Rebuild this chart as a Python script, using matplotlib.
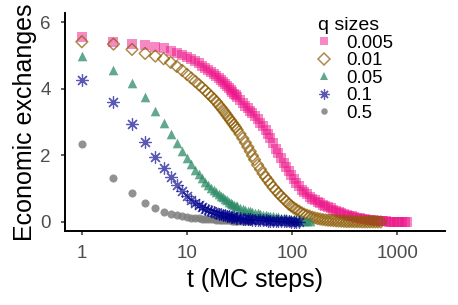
import matplotlib
matplotlib.use("Agg")
import matplotlib.pyplot as plt
from matplotlib.lines import Line2D

plt.rcParams['font.family'] = ['Liberation Sans', 'DejaVu Sans']

# time steps (MC steps)
t_steps = [1, 2, 3, 4, 5, 6, 7, 8, 9, 10,
           11, 12, 13, 14, 15, 16, 17, 18, 19, 20,
           21, 22, 23, 24, 25, 26, 27, 28, 29, 30,
           32, 34, 36, 38, 40, 42, 44, 47, 50, 53,
           56, 59, 62, 66, 70, 74, 78, 83, 88, 93,
           98, 104, 110, 117, 124, 131, 139, 147, 156, 165,
           175, 185, 196, 208, 220, 233, 247, 262, 277, 294,
           311, 330, 349, 370, 392, 415, 440, 466, 494, 523,
           554, 587, 622, 659, 698, 740, 784, 830, 880, 932,
           988, 1047, 1109, 1175, 1245]

q_labels = ["0.005", "0.01", "0.05", "0.1", "0.5"]

ex_q0005 = [5.54, 5.39, 5.34, 5.30, 5.26, 5.21, 5.14, 5.08, 5.02, 4.96,
            4.90, 4.83, 4.76, 4.69, 4.62, 4.56, 4.50, 4.43, 4.37, 4.31,
            4.25, 4.19, 4.13, 4.07, 4.01, 3.96, 3.90, 3.85, 3.80, 3.75,
            3.66, 3.57, 3.49, 3.41, 3.33, 3.26, 3.19, 3.09, 2.98, 2.87,
            2.76, 2.64, 2.53, 2.37, 2.20, 2.06, 1.92, 1.78, 1.64, 1.52,
            1.41, 1.30, 1.18, 1.07, 0.97, 0.90, 0.83, 0.76, 0.70, 0.65,
            0.60, 0.56, 0.51, 0.47, 0.44, 0.41, 0.37, 0.34, 0.30, 0.27,
            0.24, 0.21, 0.19, 0.17, 0.15, 0.13, 0.11, 0.10, 0.08, 0.07,
            0.06, 0.05, 0.04, 0.035, 0.03, 0.02, 0.02, 0.01, 0.01, 0.01,
            0.005, 0.005, 0.0, 0.0, 0.0]

ex_q001 = [5.41, 5.34, 5.18, 5.06, 4.98, 4.90, 4.79, 4.67, 4.55, 4.43,
           4.32, 4.22, 4.12, 4.03, 3.94, 3.85, 3.77, 3.69, 3.61, 3.52,
           3.44, 3.36, 3.28, 3.20, 3.12, 3.05, 2.98, 2.91, 2.84, 2.77,
           2.64, 2.51, 2.38, 2.25, 2.12, 1.99, 1.87, 1.71, 1.58, 1.45,
           1.34, 1.25, 1.15, 1.04, 0.95, 0.86, 0.78, 0.70, 0.62, 0.54,
           0.48, 0.42, 0.37, 0.32, 0.27, 0.23, 0.20, 0.17, 0.14, 0.12,
           0.10, 0.085, 0.07, 0.06, 0.05, 0.045, 0.04, 0.03, 0.025, 0.02,
           0.015, 0.01, 0.01, 0.01, 0.005, 0.005, 0.005, 0.0, 0.0, 0.0,
           0.0, 0.0, 0.0, 0.0, 0.0]

ex_q005 = [4.99, 4.56, 4.16, 3.74, 3.34, 2.96, 2.64, 2.36, 2.12, 1.91,
           1.73, 1.57, 1.43, 1.31, 1.20, 1.11, 1.03, 0.96, 0.89, 0.83,
           0.78, 0.74, 0.69, 0.65, 0.61, 0.58, 0.55, 0.52, 0.49, 0.47,
           0.43, 0.40, 0.37, 0.34, 0.32, 0.30, 0.28, 0.26, 0.24, 0.22,
           0.205, 0.19, 0.18, 0.165, 0.15, 0.14, 0.13, 0.115, 0.105, 0.095,
           0.085, 0.075, 0.065, 0.055, 0.05, 0.04, 0.035, 0.03]

ex_q01 = [4.26, 3.59, 2.94, 2.40, 1.96, 1.61, 1.34, 1.11, 0.94, 0.79,
          0.67, 0.58, 0.51, 0.45, 0.40, 0.36, 0.33, 0.30, 0.27, 0.25,
          0.23, 0.21, 0.195, 0.18, 0.17, 0.16, 0.15, 0.14, 0.13, 0.12,
          0.11, 0.10, 0.09, 0.085, 0.075, 0.07, 0.065, 0.06, 0.055, 0.05,
          0.045, 0.04, 0.035, 0.03, 0.03, 0.025, 0.02, 0.02, 0.015, 0.015,
          0.01, 0.01, 0.005, 0.0]

ex_q05 = [2.35, 1.33, 0.86, 0.58, 0.42, 0.31, 0.24, 0.20, 0.17, 0.14,
          0.13, 0.12, 0.11, 0.10, 0.09, 0.09, 0.08, 0.08, 0.07, 0.07,
          0.065, 0.06, 0.055, 0.05, 0.05, 0.045, 0.04, 0.04, 0.035, 0.035,
          0.03, 0.03, 0.025, 0.02, 0.02]

series = [ex_q0005, ex_q001, ex_q005, ex_q01, ex_q05]

styles = [
    dict(marker='s', s=44, color='#EE1289', alpha=0.5, kind='fill', lw=0, z=2),
    dict(marker='D', s=36, color='#8B5A00', alpha=0.7, kind='hollow', lw=1.1, z=3),
    dict(marker='^', s=48, color='#2E8B67', alpha=0.75, kind='fill', lw=0, z=5),
    dict(marker=(8, 2, 0), s=72, color='#00008B', alpha=0.65, kind='line', lw=0.9, z=6),
    dict(marker='o', s=34, color='#7F7F7F', alpha=0.85, kind='fill', lw=0, z=4),
]

fig = plt.figure(figsize=(4.58, 3.05), dpi=100)
ax = fig.add_axes([0.142, 0.243, 0.830, 0.714])

handles = []
for vals, st, lab in zip(series, styles, q_labels):
    tt = t_steps[:len(vals)]
    ms = st['s'] ** 0.5
    if st['kind'] == 'hollow':
        ax.scatter(tt, vals, marker=st['marker'], s=st['s'], facecolors='none',
                   edgecolors=st['color'], linewidths=st['lw'], alpha=st['alpha'], zorder=st['z'])
        h = Line2D([], [], linestyle='none', marker=st['marker'], markersize=ms,
                   markerfacecolor='none', markeredgecolor=st['color'], markeredgewidth=st['lw'],
                   alpha=st['alpha'], label=lab)
    elif st['kind'] == 'line':
        ax.scatter(tt, vals, marker=st['marker'], s=st['s'], color=st['color'],
                   linewidths=st['lw'], alpha=st['alpha'], zorder=st['z'])
        h = Line2D([], [], linestyle='none', marker=st['marker'], markersize=ms * 0.85,
                   color=st['color'], markeredgewidth=st['lw'], alpha=st['alpha'], label=lab)
    else:
        ax.scatter(tt, vals, marker=st['marker'], s=st['s'], color=st['color'],
                   linewidths=0, alpha=st['alpha'], zorder=st['z'])
        h = Line2D([], [], linestyle='none', marker=st['marker'], markersize=ms * 0.8,
                   color=st['color'], markeredgewidth=0, alpha=st['alpha'], label=lab)
    handles.append(h)

ax.set_xscale('log')
ax.set_xlim(10 ** -0.16, 10 ** 3.457)
ax.set_ylim(-0.27, 6.27)
ax.set_xticks([1, 10, 100, 1000])
ax.set_xticklabels(['1', '10', '100', '1000'])
ax.xaxis.set_minor_locator(matplotlib.ticker.NullLocator())
ax.set_yticks([0, 2, 4, 6])

for side in ['top', 'right']:
    ax.spines[side].set_visible(False)
for side in ['left', 'bottom']:
    ax.spines[side].set_linewidth(1.4)
    ax.spines[side].set_color('black')
ax.tick_params(axis='both', length=2.9, width=1.1, color='#333333', labelsize=13.5,
               labelcolor='#4D4D4D', pad=7.3)

ax.set_xlabel('t (MC steps)', fontsize=18, labelpad=4)
ax.set_ylabel('Economic exchanges', fontsize=18, labelpad=2.5)

leg = ax.legend(handles=handles, title='q sizes', loc='upper left',
                bbox_to_anchor=(318 / 458, 1 - 17 / 305), bbox_transform=fig.transFigure,
                frameon=False, fontsize=13.4, title_fontsize=14, handlelength=0.6,
                handletextpad=0.9, labelspacing=0.03, borderpad=0, borderaxespad=0)
leg._legend_box.align = 'left'

fig.savefig('out.png', dpi=100)
